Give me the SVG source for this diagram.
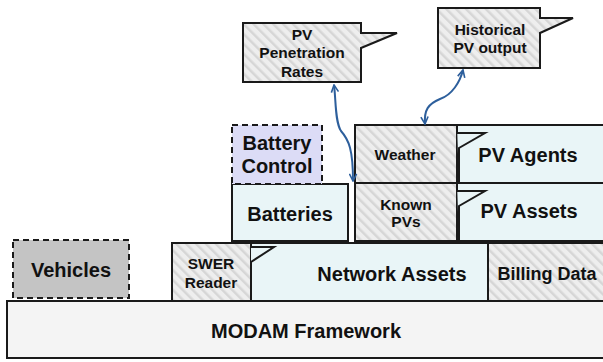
<svg xmlns="http://www.w3.org/2000/svg" width="603" height="362" viewBox="0 0 603 362">
<style>
.b{stroke:#1a1a1a;stroke-width:2}
.hat{fill:url(#hatch)}
.lb{fill:#e9f5f7}
.t{font-family:"Liberation Sans",Arial,sans-serif;font-weight:bold;fill:#111;text-anchor:middle}
.L{font-size:20px}
.M{font-size:18px}
.S{font-size:15.5px}
.con{fill:none;stroke:#2d5f9c;stroke-width:2}
</style>
<defs>
<pattern id="hatch" width="7" height="7" patternUnits="userSpaceOnUse" patternTransform="rotate(-45)">
<rect width="7" height="7" fill="#eeeeee"/>
<rect width="2.5" height="7" fill="#d6d6d6"/>
</pattern>
<marker id="ah" viewBox="0 0 10 10" refX="9" refY="5" markerWidth="9" markerHeight="9" markerUnits="userSpaceOnUse" orient="auto-start-reverse">
<path d="M1,1 L9,5 L1,9" fill="none" stroke="#2d5f9c" stroke-width="1.8"/>
</marker>
</defs>
<rect width="603" height="362" fill="#ffffff"/>

<g id="modam">
<rect x="7" y="301" width="606" height="57" fill="#f4f4f4" class="b"/>
<text class="t L" x="306" y="338">MODAM Framework</text>
</g>

<g id="vehicles">
<rect x="13" y="240" width="116" height="58" fill="#c4c4c4" class="b" stroke-dasharray="6,4"/>
<text class="t L" x="71" y="277">Vehicles</text>
</g>

<g id="network-assets">
<rect x="251" y="243" width="237" height="58" class="b lb"/>
<text class="t L" x="392" y="281">Network Assets</text>
</g>

<g id="swer-reader">
<rect x="172" y="243" width="79" height="58" class="b hat"/>
<polyline points="251,243 251,247 274,247 251,262 251,301" fill="#e9f5f7" class="b"/>
<text class="t S" x="211" y="269">SWER</text>
<text class="t S" x="211" y="288">Reader</text>
</g>

<g id="billing-data">
<rect x="488" y="243" width="125" height="58" class="b hat"/>
<text class="t M" x="547" y="280">Billing Data</text>
</g>

<g id="batteries">
<rect x="232" y="184" width="116" height="57" class="b lb"/>
<text class="t L" x="290" y="221">Batteries</text>
</g>

<g id="battery-control">
<rect x="232" y="125" width="90" height="59" fill="#dcdcf6" class="b" stroke-dasharray="6,4"/>
<text class="t L" x="277" y="150">Battery</text>
<text class="t L" x="277" y="173">Control</text>
</g>

<g id="pv-agents">
<rect x="457" y="125" width="156" height="58" class="b lb"/>
<text class="t L" x="528" y="162">PV Agents</text>
</g>

<g id="weather">
<rect x="355" y="125" width="102" height="58" class="b hat"/>
<polyline points="457,125 457,133 485,133 459,148 459,183" fill="#e9f5f7" class="b"/>
<text class="t S" x="405" y="160">Weather</text>
</g>

<g id="pv-assets">
<rect x="457" y="183" width="156" height="58" class="b lb"/>
<text class="t L" x="529" y="218">PV Assets</text>
</g>

<g id="known-pvs">
<rect x="355" y="183" width="102" height="58" class="b hat"/>
<polyline points="457,183 457,191 485,191 459,206 459,241" fill="#e9f5f7" class="b"/>
<text class="t S" x="406" y="210">Known</text>
<text class="t S" x="406" y="227">PVs</text>
</g>

<g id="pv-penetration-rates">
<path d="M243,23 H361 V33 H397 L361,48 V82 H243 Z" class="b hat"/>
<text class="t S" x="302" y="40">PV</text>
<text class="t S" x="302" y="58">Penetration</text>
<text class="t S" x="302" y="77">Rates</text>
</g>

<g id="historical-pv-output">
<path d="M438,8 H540 V18 H573 L540,33 V68 H438 Z" class="b hat"/>
<text class="t S" x="490" y="35">Historical</text>
<text class="t S" x="490" y="53">PV output</text>
</g>

<g id="connectors">
<path class="con" d="M334,85 C336,100 335,122 341,131 C349,140 353,150 353,181" marker-start="url(#ah)" marker-end="url(#ah)"/>
<path class="con" d="M463,70 C460,82 452,95 440,99 C428,104 424,110 425,124" marker-start="url(#ah)" marker-end="url(#ah)"/>
</g>
</svg>
